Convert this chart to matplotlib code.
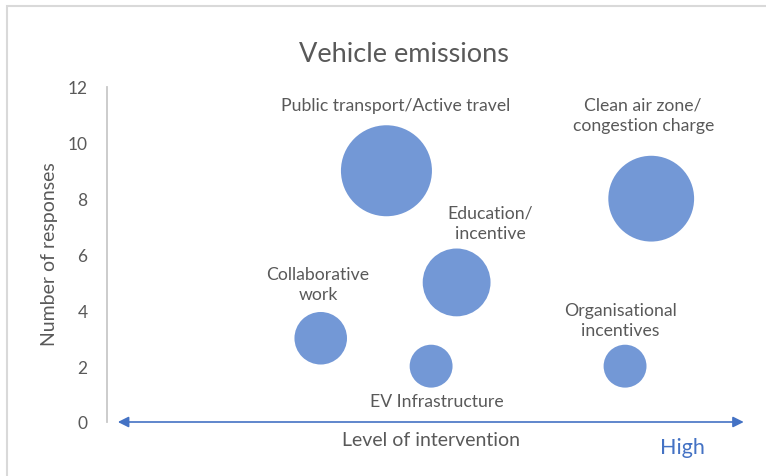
import matplotlib
matplotlib.use("Agg")
import matplotlib.pyplot as plt
from matplotlib.patches import Rectangle

plt.rcParams['font.family'] = ['Lato', 'DejaVu Sans']

categories = ["Public transport/Active travel", "Clean air zone/\ncongestion charge",
              "Education/\nincentive", "Collaborative\nwork", "EV Infrastructure",
              "Organisational\nincentives"]
level = [4.38, 8.53, 5.48, 3.35, 5.08, 8.12]
responses = [9, 8, 5, 3, 2, 2]
bubble_size = [9, 8, 5, 3, 2, 2]
y_ticks = [0, 2, 4, 6, 8, 10, 12]

# label offsets (points) from bubble centre
offsets = [(6.8, 47), (-5.8, 60.5), (24, 43), (-2, 39), (4.3, -25), (-3.6, 33)]

W, H = 766, 477
fig = plt.figure(figsize=(W / 100, H / 100), dpi=100)
ax = fig.add_axes([107 / W, (H - 423) / H, (745 - 107) / W, (423 - 88) / H])

grey = '#595959'
bubble_col = '#7398D6'
blue = '#4472C4'

ax.scatter(level, responses, s=[b * 477 for b in bubble_size], color=bubble_col,
           edgecolors='none', zorder=3, clip_on=False)

for lab, x, y, off in zip(categories, level, responses, offsets):
    ax.annotate(lab, (x, y), xytext=off, textcoords='offset points', ha='center',
                va='center', fontsize=12.7, color=grey, linespacing=1.3)

ax.set_xlim(0, 10)
ax.set_ylim(0, 12)
ax.set_yticks(y_ticks)
ax.set_yticklabels([str(t) for t in y_ticks], fontsize=12.5, color=grey)
ax.tick_params(axis='y', length=0, pad=14)
ax.set_xticks([])
for s in ['top', 'right', 'bottom']:
    ax.spines[s].set_visible(False)
ax.spines['left'].set_color('#c8c8c8')
ax.spines['left'].set_linewidth(1.3)

# double-headed arrow along the x axis
ax.annotate('', xy=(0.998, 0), xytext=(0.017, 0), xycoords=('axes fraction', 'data'),
            textcoords=('axes fraction', 'data'),
            arrowprops=dict(arrowstyle='<|-|>', color=blue, lw=1.2,
                            mutation_scale=16, shrinkA=0, shrinkB=0), annotation_clip=False)

fig.text(50 / W, 1 - 254 / H, 'Number of responses', rotation=90, ha='center', va='center',
         fontsize=14, color=grey)
fig.text(404 / W, 1 - 55 / H, 'Vehicle emissions', ha='center', va='center',
         fontsize=19.5, color=grey)
fig.text(431 / W, 1 - 441 / H, 'Level of intervention', ha='center', va='center',
         fontsize=14, color=grey)
fig.text(682 / W, 1 - 448 / H, 'High', ha='center', va='center', fontsize=15.5, color=blue)

fig.add_artist(Rectangle((7 / W, -0.1), 1.2, 1 - 7 / H + 0.1, transform=fig.transFigure,
                         fill=False, edgecolor='#d9d9d9', lw=1.5, clip_on=False))

fig.savefig('out.png', dpi=100)
